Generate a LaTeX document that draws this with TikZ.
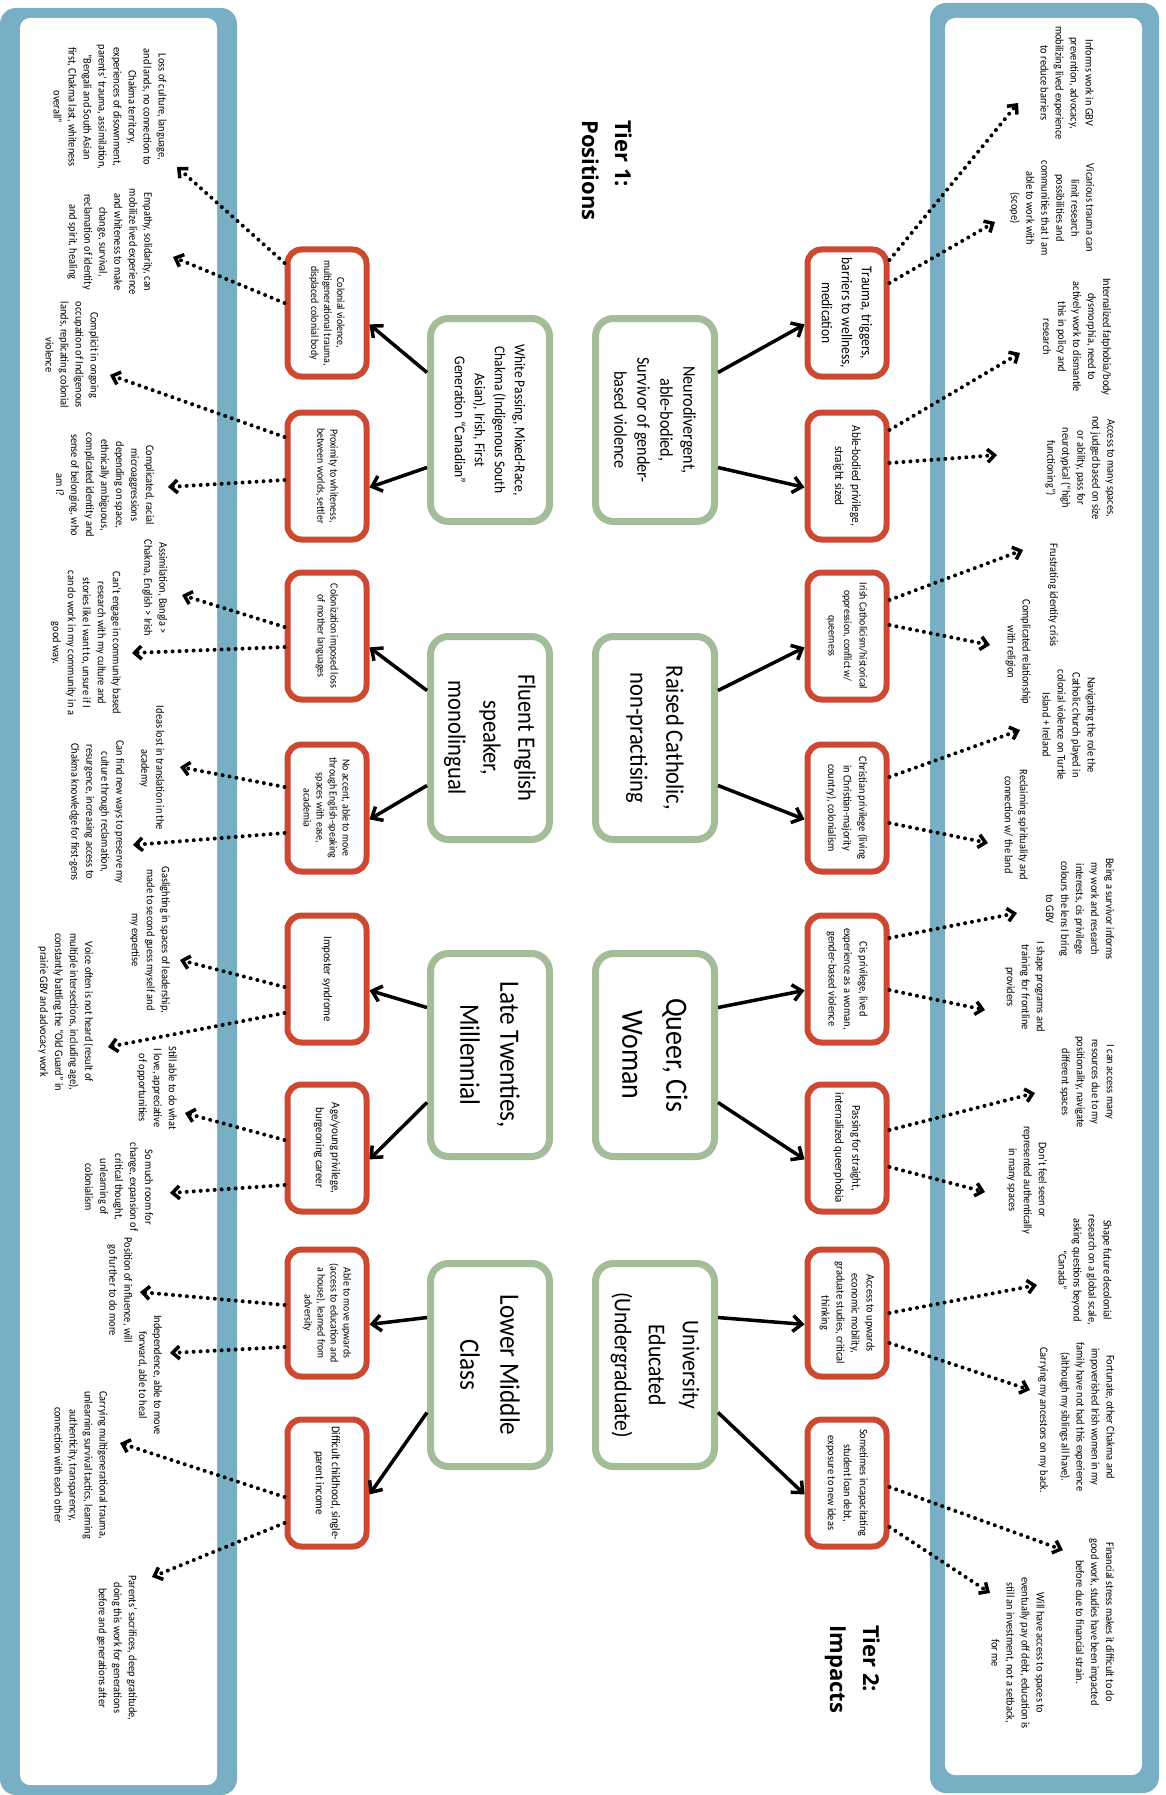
\documentclass[tikz,border=0pt]{standalone}
\usepackage{fontspec}
\setmainfont{Carlito}[FakeStretch=0.9]
\newfontfamily\titlefont{Open Sans}
\usetikzlibrary{arrows.meta,calc}
\definecolor{frameBlue}{RGB}{120,175,196}
\definecolor{posGreen}{RGB}{163,189,152}
\definecolor{effRed}{RGB}{205,72,48}
\newcommand{\fs}[2]{\fontsize{#1}{#2}\selectfont}

\begin{document}
\begin{tikzpicture}[x=1pt, y=1pt, rotate=-90, transform shape,
  posStyle/.style={draw=posGreen, line width=7pt, rounded corners=18pt, fill=white, align=center, minimum width=203pt, minimum height=119pt, inner sep=4pt},
  effStyle/.style={draw=effRed, line width=6pt, rounded corners=14pt, fill=white, align=center, minimum width=127pt, minimum height=79pt, inner sep=3pt, font=\fs{11}{13}},
  noteStyle/.style={align=center, inner sep=0pt, font=\fs{11.5}{15}},
  tierStyle/.style={align=left, inner sep=0pt, anchor=north west, font=\titlefont\bfseries\fs{22}{33}},
  solidArrow/.style={line width=3.5pt, -{Straight Barb[length=9pt,width=16pt,line width=3.5pt]}},
  dotArrow/.style={line width=4pt, line cap=round, dash pattern=on 0pt off 7pt, -{Straight Barb[length=7pt,width=13pt,line width=3.5pt]}}]

\useasboundingbox (0,0) rectangle (1795,1166);
\fill[white] (0,0) rectangle (1795,1166);

% frames
\fill[frameBlue, rounded corners=16pt] (8,0) rectangle (1795,237);
\fill[white, rounded corners=10pt] (18,20) rectangle (1785,217);
\fill[frameBlue, rounded corners=16pt] (3,930) rectangle (1793,1159);
\fill[white, rounded corners=10pt] (18,945) rectangle (1775,1142);

\node[tierStyle] (tier1) at (120,632) {Tier 1:\\Positions};
\node[tierStyle] (tier2) at (1625,880) {Tier 2:\\Impacts};

% positions
\node[posStyle, font=\fs{15}{20}] (g1L) at (420,490) {White Passing, Mixed-Race,\\Chakma (Indigenous South\\Asian), Irish, First\\Generation “Canadian”};
\node[posStyle, font=\fs{25}{35}] (g2L) at (738,490) {Fluent English\\speaker,\\monolingual};
\node[posStyle, font=\fs{28}{40}] (g3L) at (1055,490) {Late Twenties,\\Millennial};
\node[posStyle, font=\fs{28}{40}] (g4L) at (1365,490) {Lower Middle\\Class};
\node[posStyle, font=\fs{18}{23}] (g1R) at (420,655) {Neurodivergent,\\able-bodied,\\Survivor of gender-\\based violence};
\node[posStyle, font=\fs{25}{36}] (g2R) at (738,655) {Raised Catholic,\\non-practising};
\node[posStyle, font=\fs{31}{44}] (g3R) at (1055,655) {Queer, Cis\\Woman};
\node[posStyle, font=\fs{24}{34}] (g4R) at (1365,655) {University\\Educated\\(Undergraduate)};

% effects, left
\node[effStyle] (r1L) at (313,327) {Colonial violence,\\multigenerational trauma,\\displaced colonial body};
\node[effStyle] (r2L) at (476,327) {Proximity to whiteness,\\between worlds, settler};
\node[effStyle] (r3L) at (636,327) {Colonization imposed loss\\of mother languages};
\node[effStyle] (r4L) at (808,327) {No accent, able to move\\through English-speaking\\spaces with ease,\\academia};
\node[effStyle, font=\fs{12}{14}] (r5L) at (979,327) {Imposter syndrome};
\node[effStyle, font=\fs{12}{16}] (r6L) at (1148,327) {Age/young privilege,\\burgeoning career};
\node[effStyle] (r7L) at (1313,327) {Able to move upwards\\(access to education and\\a house), learned from\\adversity};
\node[effStyle, font=\fs{12}{16}] (r8L) at (1483,327) {Difficult childhood, single-\\parent income};

% effects, right
\node[effStyle, font=\fs{15}{20}] (r1R) at (313,847) {Trauma, triggers,\\barriers to wellness,\\medication};
\node[effStyle, font=\fs{12.5}{17}] (r2R) at (476,847) {Able-bodied privilege,\\straight sized};
\node[effStyle, font=\fs{11}{15.5}] (r3R) at (636,847) {Irish Catholicism/historical\\oppression, conflict w/\\queerness};
\node[effStyle, font=\fs{11.5}{15.5}] (r4R) at (808,847) {Christian privilege (living\\in Christian-majority\\country), colonialism};
\node[effStyle, font=\fs{11.5}{15.5}] (r5R) at (979,847) {Cis privilege, lived\\experience as a woman,\\gender-based violence};
\node[effStyle, font=\fs{12}{17}] (r6R) at (1148,847) {Passing for straight,\\internalized queerphobia};
\node[effStyle, font=\fs{11.5}{15}] (r7R) at (1313,847) {Access to upwards\\economic mobility,\\graduate studies, critical\\thinking};
\node[effStyle, font=\fs{11.5}{16}] (r8R) at (1483,847) {Sometimes incapacitating\\student loan debt,\\exposure to new ideas};

% notes, left
\node[noteStyle] (a1) at (107,110) {Loss of culture, language,\\and lands, no connection to\\Chakma territory,\\experiences of disownment,\\parents' trauma, assimilation,\\“Bengali and South Asian\\first, Chakma last, whiteness\\overall”};
\node[noteStyle] (a2) at (242,110) {Empathy, solidarity, can\\mobilize lived experience\\and whiteness to make\\change, survival,\\reclamation of identity\\and spirit, healing};
\node[noteStyle] (a3) at (355,72) {Complicit in ongoing\\occupation of Indigenous\\lands, replicating colonial\\violence};
\node[noteStyle] (a4) at (485,105) {Complicated, racial\\microaggressions\\depending on space,\\ethnically ambiguous,\\complicated identity and\\sense of belonging, who\\am I?};
\node[noteStyle] (a5) at (588,155) {Assimilation, Bangla >\\Chakma, English > Irish};
\node[noteStyle] (a6) at (643,86) {Can't engage in community based\\research with my culture and\\stories like I want to, unsure if I\\can do work in my community in a\\good way.};
\node[noteStyle] (a7) at (768,152) {Ideas lost in translation in the\\academy};
\node[noteStyle] (a8) at (812,97) {Can find new ways to preserve my\\culture through reclamation,\\resurgence, increasing access to\\Chakma knowledge for first-gens};
\node[noteStyle] (a9) at (940,150) {Gaslighting in spaces of leadership,\\made to second guess myself and\\my expertise};
\node[noteStyle] (a10) at (1012,66) {Voice often is not heard (result of\\multiple intersections, including age),\\constantly battling the “Old Guard” in\\prairie GBV and advocacy work};
\node[noteStyle] (a11) at (1088,157) {Still able to do what\\I love, appreciative\\of opportunities};
\node[noteStyle] (a12) at (1187,119) {So much room for\\change, expansion of\\critical thought,\\unlearning of\\colonialism};
\node[noteStyle] (a13) at (1290,120) {Position of influence, will\\go further to do more};
\node[noteStyle] (a14) at (1375,150) {Independence, able to move\\forward, able to heal};
\node[noteStyle] (a15) at (1465,81) {Carrying multigenerational trauma,\\unlearning survival tactics, learning\\authenticity, transparency,\\connection with each other};
\node[noteStyle] (a16) at (1648,117) {Parents' sacrifices, deep gratitude,\\doing this work for generations\\before and generations after};

% notes, right
\node[noteStyle] (b1) at (83,1067) {Informs work in GBV\\prevention, advocacy,\\mobilizing lived experience\\to reduce barriers};
\node[noteStyle] (b2) at (208,1052) {Vicarious trauma can\\limit research\\possibilities and\\communities that I am\\able to work with\\(scope)};
\node[noteStyle] (b3) at (337,1077) {Internalized fatphobia/body\\dysmorphia, need to\\actively work to dismantle\\this in policy and\\research};
\node[noteStyle] (b4) at (468,1080) {Access to many spaces,\\not judged based on size\\or ability, pass for\\neurotypical (“high\\functioning”)};
\node[noteStyle] (b5) at (595,1053) {Frustrating identity crisis};
\node[noteStyle] (b6) at (652,1018) {Complicated relationship\\with religion};
\node[noteStyle] (b7) at (725,1069) {Navigating the role the\\Catholic church played in\\colonial violence on Turtle\\Island + Ireland};
\node[noteStyle] (b8) at (825,1016) {Reclaiming spirituality and\\connection w/ the land};
\node[noteStyle] (b9) at (909,1080) {Being a survivor informs\\my work and research\\interests, cis privilege\\colours the lens I bring\\to GBV};
\node[noteStyle] (b10) at (987,1025) {I shape programs and\\training for frontline\\providers};
\node[noteStyle] (b11) at (1082,1087) {I can access many\\resources due to my\\positionality, navigate\\different spaces};
\node[noteStyle] (b12) at (1180,1027) {Don't feel seen or\\represented authentically\\in many spaces};
\node[noteStyle] (b13) at (1270,1085) {Shape future decolonial\\research on a global scale,\\asking questions beyond\\“Canada”};
\node[noteStyle] (b14) at (1417,1087) {Fortunate, other Chakma and\\impoverished Irish women in my\\family have not had this experience\\(although my siblings all have).};
\node[noteStyle] (b15) at (1420,1043) {Carrying my ancestors on my back.};
\node[noteStyle] (b16) at (1622,1095) {Financial stress makes it difficult to do\\good work, studies have been impacted\\before due to financial strain.};
\node[noteStyle] (b17) at (1653,1018) {Will have access to spaces to\\eventually pay off debt, education is\\still an investment, not a setback,\\for me};

% arrow tips at the notes
\coordinate (a1tip) at (167,177);
\coordinate (a2tip) at (257,173);
\coordinate (a3tip) at (375,110);
\coordinate (a4tip) at (487,168);
\coordinate (a5tip) at (595,182);
\coordinate (a6tip) at (653,132);
\coordinate (a7tip) at (767,180);
\coordinate (a8tip) at (845,133);
\coordinate (a9tip) at (960,180);
\coordinate (a10tip) at (1047,108);
\coordinate (a11tip) at (1113,185);
\coordinate (a12tip) at (1193,170);
\coordinate (a13tip) at (1292,140);
\coordinate (a14tip) at (1353,170);
\coordinate (a15tip) at (1443,120);
\coordinate (a16tip) at (1577,152);
\coordinate (b1tip) at (103,1018);
\coordinate (b2tip) at (222,995);
\coordinate (b3tip) at (353,1020);
\coordinate (b4tip) at (455,997);
\coordinate (b5tip) at (550,1023);
\coordinate (b6tip) at (645,990);
\coordinate (b7tip) at (730,1020);
\coordinate (b8tip) at (843,988);
\coordinate (b9tip) at (913,1017);
\coordinate (b10tip) at (1010,985);
\coordinate (b11tip) at (1093,1035);
\coordinate (b12tip) at (1192,985);
\coordinate (b13tip) at (1285,1037);
\coordinate (b15tip) at (1390,1030);
\coordinate (b16tip) at (1550,1063);
\coordinate (b17tip) at (1593,990);

% positions to effects
\draw[solidArrow] (g1L.233) -- (r1L.75);
\draw[solidArrow] (g1L.307) -- (r2L.75);
\draw[solidArrow] (g2L.233) -- (r3L.75);
\draw[solidArrow] (g2L.307) -- (r4L.75);
\draw[solidArrow] (g3L.233) -- (r5L.75);
\draw[solidArrow] (g3L.307) -- (r6L.75);
\draw[solidArrow] (g4L.233) -- (r7L.75);
\draw[solidArrow] (g4L.307) -- (r8L.75);
\draw[solidArrow] (g1R.127) -- (r1R.285);
\draw[solidArrow] (g1R.53) -- (r2R.285);
\draw[solidArrow] (g2R.127) -- (r3R.285);
\draw[solidArrow] (g2R.53) -- (r4R.285);
\draw[solidArrow] (g3R.127) -- (r5R.285);
\draw[solidArrow] (g3R.53) -- (r6R.285);
\draw[solidArrow] (g4R.127) -- (r7R.285);
\draw[solidArrow] (g4R.53) -- (r8R.285);

% effects to impacts
\draw[dotArrow] ($(r1L.south)+(-50,0)$) -- (a1tip);
\draw[dotArrow] ($(r1L.south)+(-10,0)$) -- (a2tip);
\draw[dotArrow] ($(r2L.south)+(-39,0)$) -- (a3tip);
\draw[dotArrow] ($(r2L.south)+(4,0)$) -- (a4tip);
\draw[dotArrow] ($(r3L.south)+(-9,0)$) -- (a5tip);
\draw[dotArrow] ($(r3L.south)+(11,0)$) -- (a6tip);
\draw[dotArrow] ($(r4L.south)+(-21,0)$) -- (a7tip);
\draw[dotArrow] ($(r4L.south)+(25,0)$) -- (a8tip);
\draw[dotArrow] ($(r5L.south)+(8,0)$) -- (a9tip);
\draw[dotArrow] ($(r5L.south)+(34,0)$) -- (a10tip);
\draw[dotArrow] ($(r6L.south)+(-8,0)$) -- (a11tip);
\draw[dotArrow] ($(r6L.south)+(37,0)$) -- (a12tip);
\draw[dotArrow] ($(r7L.south)+(-8,0)$) -- (a13tip);
\draw[dotArrow] ($(r7L.south)+(34,0)$) -- (a14tip);
\draw[dotArrow] ($(r8L.south)+(14,0)$) -- (a15tip);
\draw[dotArrow] ($(r8L.south)+(40,0)$) -- (a16tip);
\draw[dotArrow] ($(r1R.north)+(-53,0)$) -- (b1tip);
\draw[dotArrow] ($(r1R.north)+(-30,0)$) -- (b2tip);
\draw[dotArrow] ($(r2R.north)+(-46,0)$) -- (b3tip);
\draw[dotArrow] ($(r2R.north)+(-13,0)$) -- (b4tip);
\draw[dotArrow] ($(r3R.north)+(-36,0)$) -- (b5tip);
\draw[dotArrow] ($(r3R.north)+(-11,0)$) -- (b6tip);
\draw[dotArrow] ($(r4R.north)+(-31,0)$) -- (b7tip);
\draw[dotArrow] ($(r4R.north)+(15,0)$) -- (b8tip);
\draw[dotArrow] ($(r5R.north)+(-41,0)$) -- (b9tip);
\draw[dotArrow] ($(r5R.north)+(11,0)$) -- (b10tip);
\draw[dotArrow] ($(r6R.north)+(-18,0)$) -- (b11tip);
\draw[dotArrow] ($(r6R.north)+(19,0)$) -- (b12tip);
\draw[dotArrow] ($(r7R.north)+(0,0)$) -- (b13tip);
\draw[dotArrow] ($(r7R.north)+(30,0)$) -- (b15tip);
\draw[dotArrow] ($(r8R.north)+(4,0)$) -- (b16tip);
\draw[dotArrow] ($(r8R.north)+(44,0)$) -- (b17tip);
\end{tikzpicture}
\end{document}
